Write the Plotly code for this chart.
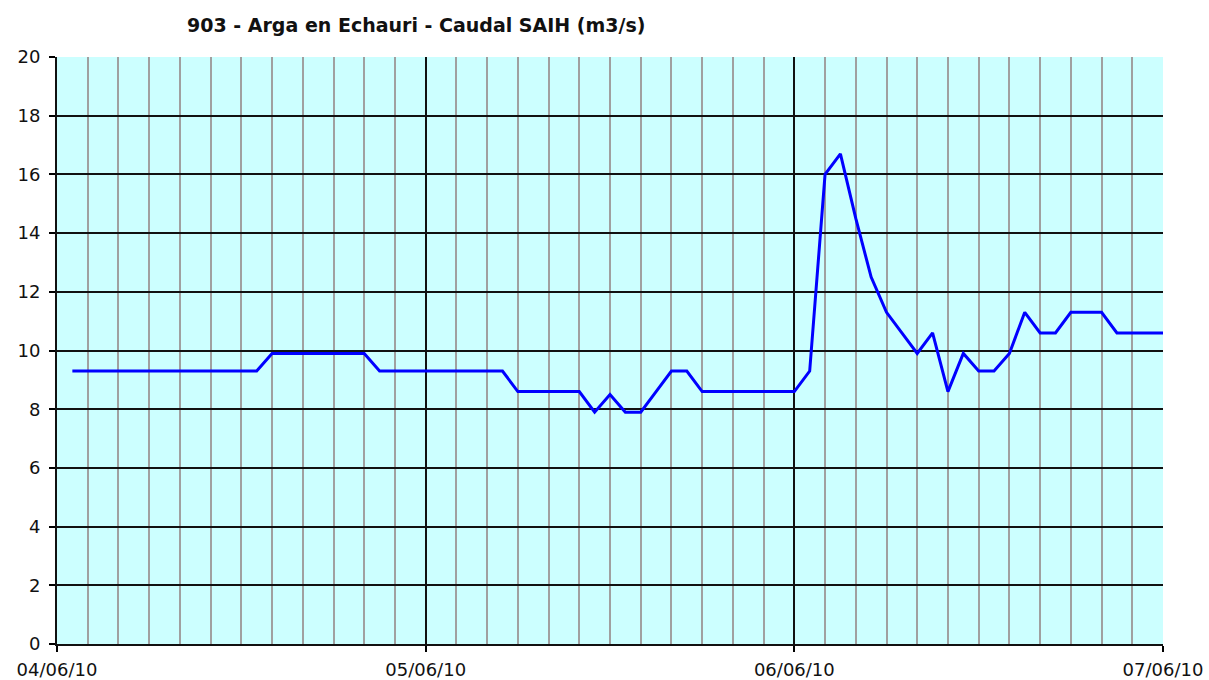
import pandas as pd
import plotly.graph_objects as go

# Hourly readings, 04/06/10 01:00 -> 07/06/10 00:00
start_time = "2010-06-04 01:00"
n_hours = 72
caudal = [
    9.3, 9.3, 9.3, 9.3, 9.3, 9.3, 9.3, 9.3, 9.3, 9.3, 9.3, 9.3, 9.3,   # h1-13
    9.9, 9.9, 9.9, 9.9, 9.9, 9.9, 9.9,                                  # h14-20
    9.3, 9.3, 9.3, 9.3, 9.3, 9.3, 9.3, 9.3, 9.3,                        # h21-29
    8.6, 8.6, 8.6, 8.6, 8.6,                                            # h30-34
    7.9, 8.5, 7.9, 7.9, 8.6, 9.3, 9.3,                                  # h35-41
    8.6, 8.6, 8.6, 8.6, 8.6, 8.6, 8.6,                                  # h42-48
    9.3, 16.0, 16.7, 14.5, 12.5, 11.3, 10.6, 9.9, 10.6, 8.6, 9.9,       # h49-59
    9.3, 9.3, 9.9, 11.3, 10.6, 10.6, 11.3, 11.3, 11.3,                  # h60-68
    10.6, 10.6, 10.6, 10.6,                                             # h69-72
]
times = pd.date_range(start_time, periods=n_hours, freq="h")

title_text = "903 - Arga en Echauri - Caudal SAIH (m3/s)"
x_range = ["2010-06-04 00:00", "2010-06-07 00:00"]
y_range = [0, 20]

fig = go.Figure()
fig.add_trace(go.Scatter(
    x=times, y=caudal, mode="lines",
    line=dict(color="#0000FF", width=3),
    showlegend=False, hoverinfo="x+y",
))

font_family = "DejaVu Sans, Verdana, sans-serif"

fig.update_layout(
    width=1209, height=680,
    margin=dict(l=57, r=46, t=57, b=36),
    paper_bgcolor="white",
    plot_bgcolor="#CCFFFF",
    font=dict(family=font_family, size=18, color="#111111"),
    annotations=[dict(
        text=title_text, xref="paper", yref="paper",
        x=(416 - 57) / (1163 - 57), y=1, yshift=32,
        xanchor="center", yanchor="middle", showarrow=False,
        font=dict(family=font_family, size=19, color="#111111", weight="bold"),
    )],
)

fig.update_xaxes(
    type="date", range=x_range, automargin=False,
    tick0="2010-06-04", dtick=86400000, tickformat="%d/%m/%y",
    ticks="outside", ticklen=6, tickcolor="black", tickwidth=1.5,
    ticklabelstandoff=2,
    showgrid=True, gridcolor="#111111", gridwidth=1.5,
    minor=dict(dtick=7200000, tick0="2010-06-04", showgrid=True,
               gridcolor="#A0A0A0", gridwidth=2, ticks=""),
    showline=True, linecolor="#111111", linewidth=2, mirror=False,
    zeroline=False, fixedrange=True,
)
fig.update_yaxes(
    range=y_range, dtick=2, tick0=0, automargin=False,
    ticks="outside", ticklen=6, tickcolor="black", tickwidth=1.5,
    ticklabelstandoff=5,
    showgrid=True, gridcolor="#111111", gridwidth=1.5,
    showline=True, linecolor="#111111", linewidth=2, mirror=False,
    zeroline=False, fixedrange=True,
)

# remove the browser's default 8px body margin so the figure sits at (0, 0)
fig.write_html(
    "out.html",
    config={"displayModeBar": False},
    post_script="document.body.style.margin='0';document.body.style.overflow='hidden';",
)
